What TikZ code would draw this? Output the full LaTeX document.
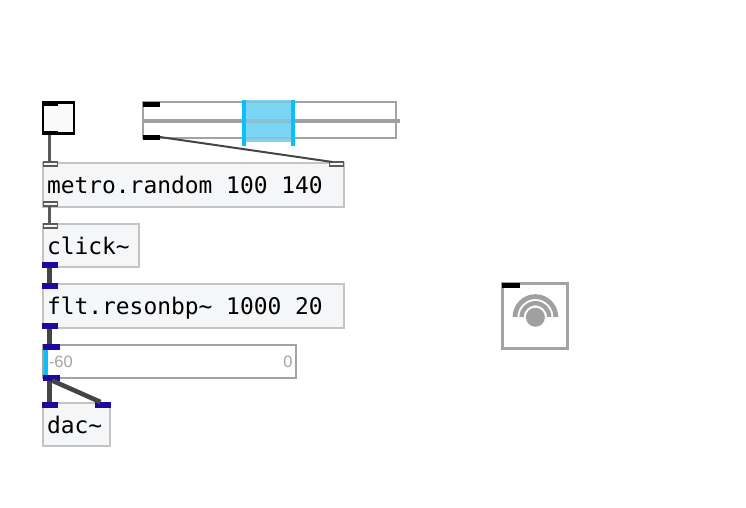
\documentclass[tikz,border=0pt]{standalone}
\usepackage{fontspec}
\setmainfont{Liberation Sans}
\newfontfamily\pdmono{DejaVu Sans Mono}
\definecolor{objfill}{HTML}{F5F6F8}
\definecolor{objline}{HTML}{C4C4C4}
\definecolor{uiline}{HTML}{A3A3A3}
\definecolor{sigblue}{HTML}{1C0A9E}
\definecolor{cyanbar}{HTML}{0CBEFC}
\definecolor{selfill}{HTML}{7BD5F5}
\definecolor{wiredark}{HTML}{454545}
\definecolor{wiremid}{HTML}{5A5A5A}
\definecolor{iconfill}{HTML}{A0A0A0}
\tikzset{
  x=1pt,y=-1pt,
  every node/.style={outer sep=0pt,inner sep=0pt},
  objbox/.style={draw=objline,line width=2.1pt,fill=objfill,anchor=north west,inner xsep=4pt,
    text height=22pt,text depth=4.5pt,font=\pdmono\fontsize{22.9}{23}\selectfont,text=black},
  uibox/.style={draw=uiline,line width=2.1pt,fill=white,anchor=north west},
  portblack/.style={fill=black,anchor=north west,minimum width=#1,minimum height=4.5pt},
  portctl/.style={draw=wiremid,line width=1.5pt,fill=white!85!objline,anchor=north west,minimum width=14pt,minimum height=4pt},
  portsig/.style={fill=sigblue,anchor=north west,minimum width=#1,minimum height=6pt},
  wirectl/.style={draw=wiremid,line width=2.6pt},
  wirethin/.style={draw=wiredark,line width=2pt},
  wiresig/.style={draw=wiredark,line width=4.6pt},
  cyanline/.style={draw=cyanbar,line width=3.8pt},
  meterlabel/.style={font=\fontsize{16.5}{16.5}\selectfont,text=uiline}
}
\begin{document}
\begin{tikzpicture}
\useasboundingbox[fill=white] (0,0) rectangle (746,507);

% toggle
\node[draw=black,line width=2.6pt,fill=objfill!50!white,anchor=north west,minimum width=31pt,minimum height=31pt] (tog) at (43,102.5) {};
\node[portblack=16pt] (togIn) at (42,101) {};
\node[portblack=16pt] (togOut) at (42,130.5) {};

% slider
\node[uibox,minimum width=253pt,minimum height=36pt] (sli) at (143,102) {};
\node[fill=selfill,anchor=north west,minimum width=49pt,minimum height=42pt] (sel) at (244,100) {};
\draw[draw=iconfill,line width=4pt] ([yshift=-1pt]sli.west) -- ++(257,0) coordinate (sliEnd);
\draw[draw=selfill!60!iconfill,line width=4pt] ([yshift=-1pt]sel.west |- sli.west) -- ([yshift=-1pt]sel.east |- sli.west);
\draw[draw=selfill!60!iconfill,line width=2pt] (sel.north west |- sli.north west) -- (sel.north east |- sli.north west);
\draw[draw=selfill!60!iconfill,line width=2pt] (sel.south west |- sli.south west) -- (sel.south east |- sli.south west);
\draw[cyanline] (sel.north west) -- ++(0,46) coordinate (selA);
\draw[cyanline] (sel.north east) -- ++(0,46) coordinate (selB);
\node[portblack=17pt,minimum height=5pt] (sliIn) at (143,101.5) {};
\node[portblack=17pt,minimum height=5pt] (sliOut) at (143,134.5) {};

\coordinate (wTogOut) at (49.5,133);

% objects
\node[objbox,minimum width=301pt,minimum height=44pt] (metro) at (43,163) {\makebox[293pt][l]{metro.random 100 140}};
\node[portctl] (metIn) at (43.5,162) {};
\node[portctl] (metInB) at (329.5,162) {};
\node[portctl] (metOut) at (43.5,202) {};

\node[objbox,minimum width=96pt,minimum height=43pt] (click) at (43,224) {\makebox[88pt][l]{click\char`\~}};
\node[portctl] (cliIn) at (43.5,224) {};
\node[portsig=16pt] (cliOut) at (42,262) {};

\node[objbox,minimum width=301pt,minimum height=44pt] (flt) at (43,284) {\makebox[293pt][l]{flt.resonbp\char`\~{} 1000 20}};
\node[portsig=16pt] (fltIn) at (42,283) {};
\node[portsig=16pt] (fltOut) at (42,323) {};

% meter
\node[uibox,minimum width=253pt,minimum height=33pt] (meter) at (43,345) {};
\fill[cyanbar] (44,350) rectangle (48,375);
\node[meterlabel,anchor=west] (mLow) at (49,361.5) {-60};
\node[meterlabel,anchor=east] (mHigh) at (292.5,361.5) {0};
\node[portsig=17pt] (metrIn) at (43,344) {};
\node[portsig=17pt] (metrOut) at (43,374.5) {};

% dac
\node[objbox,minimum width=67pt,minimum height=43pt] (dac) at (43,403) {\makebox[59pt][l]{dac\char`\~}};
\node[portsig=16pt] (dacL) at (42,402) {};
\node[portsig=16pt] (dacR) at (94.5,402) {};

% output button
\node[uibox,minimum width=65pt,minimum height=65pt] (out) at (502.5,283.5) {};
\node[portblack=18pt,minimum height=5pt] (outIn) at (502,283) {};
\fill[iconfill] (535.4,317.3) circle (9.5);
\draw[draw=iconfill,line width=4.8pt] (515,317) arc[start angle=180,end angle=360,radius=20.4];
\draw[draw=iconfill,line width=4.3pt] (521.6,317) arc[start angle=180,end angle=360,radius=13.8];

% connectors
\draw[wirectl] (togOut.south west -| wTogOut) -- (metIn.north west -| wTogOut);
\draw[wirethin] (sliOut.east) -- ([xshift=3pt]metInB.north west);
\draw[wirectl] (metOut.south west -| wTogOut) -- (cliIn.north west -| wTogOut);
\draw[wiresig] (cliOut.south west -| wTogOut) -- (fltIn.north west -| wTogOut);
\draw[wiresig] (fltOut.south west -| wTogOut) -- (metrIn.north west -| wTogOut);
\draw[wiresig] (metrOut.south west -| wTogOut) -- (dacL.north west -| wTogOut);
\draw[wiresig] ([xshift=9pt]metrOut.south west) -- ([xshift=6pt]dacR.north west);
\end{tikzpicture}
\end{document}
